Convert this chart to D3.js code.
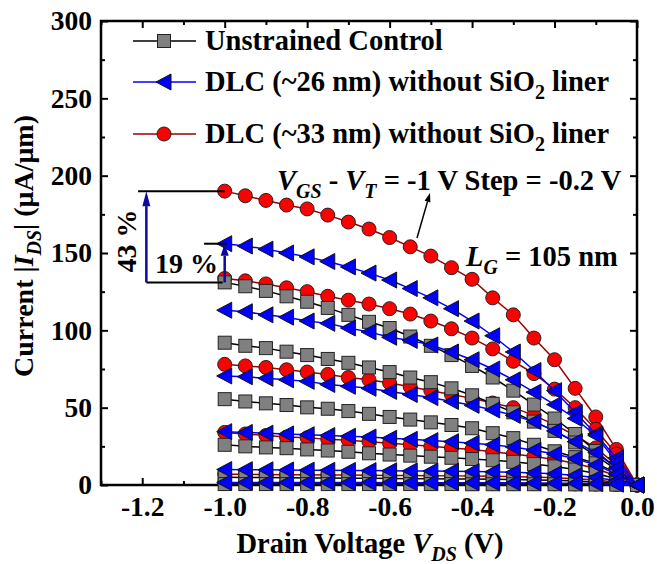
<!DOCTYPE html>
<html>
<head>
<meta charset="utf-8">
<script src="https://cdn.jsdelivr.net/npm/d3@7"></script>
<style>
  body { margin: 0; background: #fff; }
  text { font-family: "Liberation Serif", "Times New Roman", serif; font-weight: bold; }
</style>
</head>
<body>
<div id="container"></div>
<script>
// drain voltage grid (V)
const vds = [-1.0, -0.95, -0.9, -0.85, -0.8, -0.75, -0.7, -0.65, -0.6, -0.55, -0.5,
  -0.45, -0.4, -0.35, -0.3, -0.25, -0.2, -0.15, -0.1, -0.05, 0.0];

// |Ids| (uA/um), one row per VGS-VT step (-1.0 ... 0.0 V)
const unstrained = [
  [131, 128.5, 125.5, 122, 118.5, 114.5, 110, 105.5, 101.5, 96, 90, 84, 77, 69.5, 61, 52, 43, 33, 22, 11, 0],
  [92, 90, 88.5, 86.2, 84, 81.5, 79, 76, 73, 69.5, 66.5, 62.5, 58, 52.5, 47, 41, 35, 27.5, 19, 10, 0],
  [55.5, 54, 52.8, 51.7, 50.2, 49.3, 47.8, 46, 44, 42.3, 40.5, 38.8, 36.7, 33.5, 30.3, 26, 21.8, 18, 14, 8, 0],
  [26, 25, 24.3, 23.8, 23, 22.3, 21.5, 20.5, 19.7, 19, 18.3, 17.6, 16.8, 16, 15, 13.5, 12, 10, 7.5, 4, 0],
  [5, 4.9, 4.8, 4.7, 4.6, 4.5, 4.4, 4.3, 4.2, 4.1, 4, 3.9, 3.8, 3.7, 3.5, 3.3, 3, 2.6, 2, 1.2, 0],
  [0.6, 0.6, 0.6, 0.6, 0.6, 0.6, 0.6, 0.6, 0.6, 0.6, 0.6, 0.6, 0.5, 0.5, 0.5, 0.5, 0.5, 0.4, 0.3, 0.2, 0]
];
const dlc26 = [
  [156, 154.5, 152.5, 150, 147.5, 144.5, 141, 137, 132.5, 127, 121, 114, 106, 96.5, 86, 74, 61, 47, 33, 17.5, 0],
  [113, 112, 110, 108.5, 106, 104.5, 101.5, 99, 95.5, 93.5, 90.5, 86, 81, 75, 68, 60, 52, 43, 32, 15, 0],
  [70.5, 70, 69, 68, 67, 65, 63.8, 62.5, 60.5, 58.5, 56.5, 54, 51.5, 48.5, 45, 41, 35, 28, 21, 11, 0],
  [34.5, 34, 33.5, 33, 32.5, 32, 31.5, 31, 30.2, 29.5, 28.7, 28, 27, 26, 24.5, 22.5, 20, 17, 13, 7, 0],
  [10, 9.9, 9.8, 9.7, 9.6, 9.5, 9.4, 9.3, 9.2, 9.1, 9, 8.9, 8.7, 8.5, 8.2, 7.8, 7.2, 6.2, 4.8, 2.7, 0],
  [1.6, 1.6, 1.6, 1.6, 1.6, 1.6, 1.6, 1.6, 1.5, 1.5, 1.5, 1.5, 1.5, 1.4, 1.4, 1.3, 1.2, 1.1, 0.9, 0.5, 0]
];
const dlc33 = [
  [190, 187, 184, 181, 178.5, 174.5, 170, 165.5, 160, 154, 148, 140.5, 133, 121, 110, 95, 81, 62.5, 44, 23, 0],
  [133.5, 132, 130, 127.5, 125, 122, 119.5, 117, 114, 110.5, 106, 101, 95, 88, 80, 72, 62, 50, 36, 20, 0],
  [78, 77, 76, 74.5, 73, 71.5, 69.5, 68, 66, 63.5, 61, 58.5, 56, 53, 50, 45, 39, 32, 24, 13, 0],
  [34, 33, 32, 31, 30.5, 29.5, 29, 28, 27, 26, 25, 24, 23, 21.5, 20, 18.5, 16.5, 14, 10.5, 6, 0],
  [7, 6.9, 6.8, 6.7, 6.6, 6.5, 6.4, 6.3, 6.2, 6.1, 6, 5.9, 5.8, 5.6, 5.4, 5.1, 4.7, 4.1, 3.2, 1.8, 0],
  [1, 1, 1, 1, 1, 1, 1, 1, 1, 1, 1, 1, 0.9, 0.9, 0.9, 0.9, 0.8, 0.7, 0.6, 0.3, 0]
];

const xTicks = [-1.2, -1.0, -0.8, -0.6, -0.4, -0.2, 0.0];
const xMinor = [-1.3, -1.1, -0.9, -0.7, -0.5, -0.3, -0.1];
const yTicks = [0, 50, 100, 150, 200, 250, 300];
const yMinor = [25, 75, 125, 175, 225, 275];

const w = 657;
const h = 564;

const svg = d3.select('#container')
  .append('svg')
    .attr('width', w)
    .attr('height', h)
    .attr('viewBox', [0, 0, w, h]);

const x = d3.scaleLinear().domain([-1.3, 0]).range([101, 637]);
const y = d3.scaleLinear().domain([0, 300]).range([485, 21]);

// axes, ticks pointing in
function styleAxis(g) {
  g.select('.domain').remove();
  g.selectAll('.tick line').attr('stroke', '#000').attr('stroke-width', 2);
  g.selectAll('.tick text')
    .attr('fill', '#000')
    .style('font-size', '27.5px')
    .style('font-family', '"Liberation Serif", "Times New Roman", serif')
    .style('font-weight', 'bold');
}

svg.append('g')
  .attr('transform', 'translate(0,' + y(0) + ')')
  .call(d3.axisBottom(x).tickValues(xTicks).tickSize(-7).tickPadding(11).tickFormat(d => d.toFixed(1)))
  .call(styleAxis);
svg.append('g')
  .attr('transform', 'translate(0,' + y(0) + ')')
  .call(d3.axisBottom(x).tickValues(xMinor).tickSize(-4).tickFormat(''))
  .call(styleAxis);
svg.append('g')
  .attr('transform', 'translate(0,' + y(300) + ')')
  .call(d3.axisTop(x).tickValues(xTicks).tickSize(-7).tickFormat(''))
  .call(styleAxis);
svg.append('g')
  .attr('transform', 'translate(0,' + y(300) + ')')
  .call(d3.axisTop(x).tickValues(xMinor).tickSize(-4).tickFormat(''))
  .call(styleAxis);

svg.append('g')
  .attr('transform', 'translate(' + x(-1.3) + ',0)')
  .call(d3.axisLeft(y).tickValues(yTicks).tickSize(-7).tickPadding(9).tickFormat(d3.format('d')))
  .call(styleAxis);
svg.append('g')
  .attr('transform', 'translate(' + x(-1.3) + ',0)')
  .call(d3.axisLeft(y).tickValues(yMinor).tickSize(-4).tickFormat(''))
  .call(styleAxis);
svg.append('g')
  .attr('transform', 'translate(' + x(0) + ',0)')
  .call(d3.axisRight(y).tickValues(yTicks).tickSize(-7).tickFormat(''))
  .call(styleAxis);
svg.append('g')
  .attr('transform', 'translate(' + x(0) + ',0)')
  .call(d3.axisRight(y).tickValues(yMinor).tickSize(-4).tickFormat(''))
  .call(styleAxis);

svg.append('rect')
  .attr('x', x(-1.3))
  .attr('y', y(300))
  .attr('width', x(0) - x(-1.3))
  .attr('height', y(0) - y(300))
  .attr('fill', 'none')
  .attr('stroke', '#000')
  .attr('stroke-width', 2.5);

// series
const line = d3.line()
  .x((d, i) => x(vds[i]))
  .y(d => y(d));

const trianglePath = 'M-8,0L7,-8L7,8Z';

function drawMarker(g, kind) {
  if (kind === 'circle') {
    g.append('circle').attr('r', 7).attr('fill', '#ff0000').attr('stroke', '#222').attr('stroke-width', 1);
  } else if (kind === 'square') {
    g.append('rect').attr('x', -6.5).attr('y', -6.5).attr('width', 13).attr('height', 13)
      .attr('fill', '#808080').attr('stroke', '#222').attr('stroke-width', 1);
  } else {
    g.append('path').attr('d', trianglePath).attr('fill', '#0000ff').attr('stroke', '#111').attr('stroke-width', 1);
  }
}

const series = [
  { rows: dlc33, color: '#990000', kind: 'circle' },
  { rows: unstrained, color: '#000000', kind: 'square' },
  { rows: dlc26, color: '#0000ff', kind: 'triangle' }
];

series.forEach(s => {
  const grp = svg.append('g');
  s.rows.forEach(row => {
    grp.append('path')
      .datum(row)
      .attr('fill', 'none')
      .attr('stroke', s.color)
      .attr('stroke-width', 1.5)
      .attr('d', line);
  });
  s.rows.forEach(row => {
    grp.selectAll(null)
      .data(row)
      .enter()
      .append('g')
      .attr('transform', (d, i) => 'translate(' + x(vds[i]) + ',' + y(d) + ')')
      .each(function() { drawMarker(d3.select(this), s.kind); });
  });
});

// legend
const legendRows = [
  { label: 'Unstrained Control', color: '#000000', kind: 'square', ly: 41, sub: false },
  { label: 'DLC (~26 nm) without SiO', color: '#0000ff', kind: 'triangle', ly: 82, sub: true },
  { label: 'DLC (~33 nm) without SiO', color: '#990000', kind: 'circle', ly: 134, sub: true }
];

const legend = svg.append('g');
legendRows.forEach(r => {
  legend.append('line')
    .attr('x1', 133).attr('x2', 196)
    .attr('y1', r.ly).attr('y2', r.ly)
    .attr('stroke', r.color).attr('stroke-width', 1.5);
  const m = legend.append('g').attr('transform', 'translate(164,' + r.ly + ')');
  drawMarker(m, r.kind);
  const t = legend.append('text')
    .attr('x', 205).attr('y', r.ly + 9)
    .style('font-size', '28.5px');
  t.append('tspan').text(r.label);
  if (r.sub) {
    t.append('tspan').attr('dy', 8).style('font-size', '20px').text('2');
    t.append('tspan').attr('dy', -8).text(' liner');
  }
});

// axis titles
const xt = svg.append('text')
  .attr('x', 370).attr('y', 553)
  .attr('text-anchor', 'middle')
  .style('font-size', '28.5px');
xt.append('tspan').text('Drain Voltage ');
xt.append('tspan').style('font-style', 'italic').text('V');
xt.append('tspan').style('font-style', 'italic').style('font-size', '20px').attr('dy', 8).text('DS');
xt.append('tspan').attr('dy', -8).text(' (V)');

const yt = svg.append('text')
  .attr('transform', 'translate(33,246) rotate(-90)')
  .attr('text-anchor', 'middle')
  .style('font-size', '28px');
yt.append('tspan').text('Current |');
yt.append('tspan').style('font-style', 'italic').text('I');
yt.append('tspan').style('font-style', 'italic').style('font-size', '20px').attr('dy', 8).text('DS');
yt.append('tspan').attr('dy', -8).text('| (\u03bcA/\u03bcm)');

// annotations
const vg = svg.append('text')
  .attr('x', 277).attr('y', 190)
  .style('font-size', '28.5px');
vg.append('tspan').style('font-style', 'italic').text('V');
vg.append('tspan').style('font-style', 'italic').style('font-size', '20px').attr('dy', 8).text('GS');
vg.append('tspan').attr('dy', -8).text(' - ');
vg.append('tspan').style('font-style', 'italic').text('V');
vg.append('tspan').style('font-style', 'italic').style('font-size', '20px').attr('dy', 8).text('T');
vg.append('tspan').attr('dy', -8).text(' = -1 V Step = -0.2 V');

const lg = svg.append('text')
  .attr('x', 466).attr('y', 266)
  .style('font-size', '28.5px');
lg.append('tspan').style('font-style', 'italic').text('L');
lg.append('tspan').style('font-style', 'italic').style('font-size', '20px').attr('dy', 8).text('G');
lg.append('tspan').attr('dy', -8).text(' = 105 nm');

function arrow(x1, y1, x2, y2, color, width, headLen, headW) {
  const ang = Math.atan2(y2 - y1, x2 - x1);
  const bx = x2 - headLen * Math.cos(ang);
  const by = y2 - headLen * Math.sin(ang);
  svg.append('line')
    .attr('x1', x1).attr('y1', y1).attr('x2', bx).attr('y2', by)
    .attr('stroke', color).attr('stroke-width', width);
  const px = -Math.sin(ang) * headW / 2;
  const py = Math.cos(ang) * headW / 2;
  svg.append('path')
    .attr('d', 'M' + x2 + ',' + y2 + 'L' + (bx + px) + ',' + (by + py) + 'L' + (bx - px) + ',' + (by - py) + 'Z')
    .attr('fill', color);
}

const arrowBlue = '#0a0a9c';

// reference lines for percentages
svg.append('line').attr('x1', x(-1.21)).attr('x2', x(-1.0)).attr('y1', y(190)).attr('y2', y(190))
  .attr('stroke', '#000').attr('stroke-width', 2);
svg.append('line').attr('x1', x(-1.19)).attr('x2', x(-1.005)).attr('y1', y(131)).attr('y2', y(131))
  .attr('stroke', '#000').attr('stroke-width', 2);
svg.append('line').attr('x1', x(-1.05)).attr('x2', x(-0.995)).attr('y1', y(156)).attr('y2', y(156))
  .attr('stroke', '#000').attr('stroke-width', 2);

arrow(x(-1.19), y(131), x(-1.19), y(190), arrowBlue, 2.5, 15, 8);
arrow(x(-1.0), y(131), x(-1.0), y(156), arrowBlue, 2.5, 12, 8);

svg.append('text')
  .attr('x', 155).attr('y', 273)
  .style('font-size', '28px')
  .text('19 %');

svg.append('text')
  .attr('transform', 'translate(136,241) rotate(-90)')
  .attr('text-anchor', 'middle')
  .style('font-size', '28px')
  .text('43 %');

arrow(417, 238, 430, 193, '#000', 1.5, 9, 6);
</script>
</body>
</html>
